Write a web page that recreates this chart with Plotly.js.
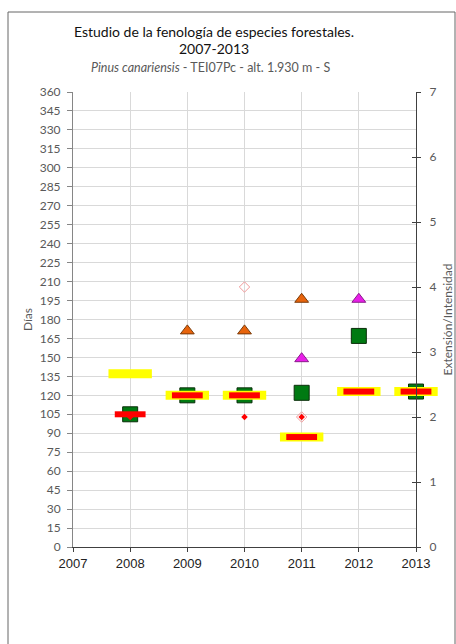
<!DOCTYPE html>
<html>
<head>
<meta charset="utf-8">
<script src="https://cdn.plot.ly/plotly-3.0.1.min.js"></script>
<style>
html,body{margin:0;padding:0;background:#fff;}
#chart{width:456px;height:644px;}
</style>
</head>
<body>
<div id="chart"></div>
<script>
// ---- data ----
var yellowYears = [2008, 2009, 2010, 2011, 2012, 2013];
var yellowDays  = [137, 120, 120, 87, 123, 123];

var redBarYears = [2008, 2009, 2010, 2011, 2012, 2013];
var redBarDays  = [105, 120, 120, 87, 123, 123];

var greenYears = [2008, 2009, 2010, 2011, 2012, 2013];
var greenDays  = [105, 120, 120, 122, 167, 123];

var orangeYears = [2009, 2010, 2011];
var orangeDays  = [171, 171, 196];

var magentaYears = [2011, 2012];
var magentaDays  = [149, 196];

var pinkYears = [2010, 2011];
var pinkIntensity = [4, 2];

var redDiamondYears = [2008, 2010, 2011];
var redDiamondIntensity = [2, 2, 2];

var xTicks = [2007, 2008, 2009, 2010, 2011, 2012, 2013];
var leftTicks = [0,15,30,45,60,75,90,105,120,135,150,165,180,195,210,225,240,255,270,285,300,315,330,345,360];
var rightTicks = [0,1,2,3,4,5,6,7];

var titleLine1 = "Estudio de la fenología de especies forestales.";
var titleLine2 = "2007-2013";
var titleLine3 = "<i>Pinus canariensis</i> - TEI07Pc - alt. 1.930 m - S";
var leftTitle = "Días";
var rightTitle = "Extensión/Intensidad";

// ---- traces ----
var base = {type:'scatter', mode:'markers', cliponaxis:false, hoverinfo:'x+y', showlegend:false};

var traces = [
  Object.assign({}, base, {x: greenYears, y: greenDays,
    marker:{symbol:'square', size:15, color:'#007a12', line:{color:'#0a2e0a', width:1}}}),
  Object.assign({}, base, {x: yellowYears, y: yellowDays,
    marker:{symbol:'line-ew', size:31, color:'#ffff00', line:{color:'#ffff00', width:9}}}),
  Object.assign({}, base, {x: redBarYears, y: redBarDays,
    marker:{symbol:'line-ew', size:22, color:'#ff0000', line:{color:'#ff0000', width:6}}}),
  Object.assign({}, base, {x: orangeYears, y: orangeDays,
    marker:{symbol:'triangle-up', size:12, color:'#e8640c', line:{color:'#7a3a08', width:1}}}),
  Object.assign({}, base, {x: magentaYears, y: magentaDays,
    marker:{symbol:'triangle-up', size:12, color:'#e81ee8', line:{color:'#8a1a8a', width:1}}}),
  Object.assign({}, base, {x: pinkYears, y: pinkIntensity, yaxis:'y2',
    marker:{symbol:'diamond-open', size:8, color:'#f29a9a', line:{color:'#f29a9a', width:1}}}),
  Object.assign({}, base, {x: redDiamondYears, y: redDiamondIntensity, yaxis:'y2',
    marker:{symbol:'diamond', size:5, color:'#ff0000', line:{width:0}}})
];

// ---- layout ----
var L = 73, R = 40, T = 92, B = 97, W = 456, H = 644;
var pw = W - L - R, ph = H - T - B;
function px2x(p){ return (p - L) / pw; }
function py2y(p){ return (H - B - p) / ph; }

var titleFont = {family:'Lato, "Open Sans", sans-serif', size:14, color:'#111111'};
var subFont = {family:'Lato, "Open Sans", sans-serif', size:12.5, color:'#595959'};

var layout = {
  width: W, height: H,
  margin:{l:L, r:R, t:T, b:B, pad:0},
  paper_bgcolor:'#ffffff', plot_bgcolor:'#ffffff',
  xaxis:{
    range:[2007, 2013], tickvals: xTicks, ticktext: xTicks.map(String),
    showgrid:true, gridcolor:'#d9d9d9', gridwidth:1,
    showline:true, linecolor:'#404040', linewidth:1,
    ticks:'outside', ticklen:4, tickcolor:'#404040',
    tickfont:{family:'"Liberation Sans", Arial, sans-serif', size:13, color:'#222222'},
    zeroline:false, fixedrange:true
  },
  yaxis:{
    range:[0, 360], tickvals: leftTicks,
    showgrid:true, gridcolor:'#d9d9d9', gridwidth:1,
    showline:true, linecolor:'#868686', linewidth:1,
    ticks:'outside', ticklen:5, tickcolor:'#868686', ticklabelstandoff:4,
    tickfont:{family:'Lato, "Open Sans", sans-serif', size:12, color:'#595959'},
    title:{text:leftTitle, font:{family:'Lato, "Open Sans", sans-serif', size:12, color:'#595959'}, standoff:4},
    zeroline:false, fixedrange:true
  },
  yaxis2:{
    range:[0, 7], tickvals: rightTicks, overlaying:'y', side:'right', anchor:'x',
    showgrid:false, showline:true, linecolor:'#404040', linewidth:1,
    ticks:'outside', ticklen:4, tickcolor:'#404040', ticklabelstandoff:6,
    tickfont:{family:'Lato, "Open Sans", sans-serif', size:12, color:'#595959'},
    title:{text:rightTitle, font:{family:'Lato, "Open Sans", sans-serif', size:12, color:'#595959'}, standoff:8},
    zeroline:false, fixedrange:true
  },
  yaxis3:{
    range:[0, 7], tickvals: rightTicks, overlaying:'y', side:'right', anchor:'x',
    showgrid:false, showline:false, showticklabels:false,
    ticks:'inside', ticklen:4, tickcolor:'#404040',
    zeroline:false, fixedrange:true
  },
  annotations:[
    {text:titleLine1, xref:'paper', yref:'paper', x:px2x(214), y:py2y(31), xanchor:'center', yanchor:'middle', showarrow:false, font:titleFont},
    {text:titleLine2, xref:'paper', yref:'paper', x:px2x(214), y:py2y(49), xanchor:'center', yanchor:'middle', showarrow:false, font:titleFont},
    {text:titleLine3, xref:'paper', yref:'paper', x:px2x(210.5), y:py2y(68), xanchor:'center', yanchor:'middle', showarrow:false, font:subFont}
  ],
  shapes:[
    {type:'rect', xref:'paper', yref:'paper', x0:px2x(8), x1:px2x(455), y0:py2y(12), y1:py2y(660),
     line:{color:'#666666', width:1}, fillcolor:'rgba(0,0,0,0)', layer:'below'}
  ]
};

// dummy trace to make yaxis3 (right-side inner ticks) render
traces.unshift({type:'scatter', mode:'markers', x:[2007], y:[0], yaxis:'y3', marker:{opacity:0}, hoverinfo:'skip', showlegend:false});

Plotly.newPlot('chart', traces, layout, {displayModeBar:false, staticPlot:true});
</script>
</body>
</html>
